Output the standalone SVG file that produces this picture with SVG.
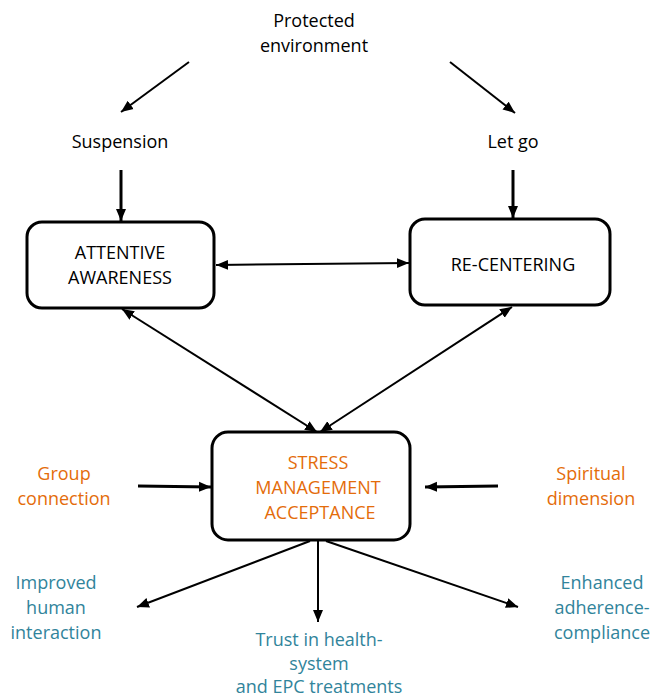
<svg xmlns="http://www.w3.org/2000/svg" width="664" height="698" viewBox="0 0 664 698">
<style>
text{font-family:"Open Sans","Noto Sans",sans-serif;font-size:18px;text-anchor:middle;fill:#000}
.or{fill:#E46C0A}
.tl{fill:#31849B}
.box{fill:#fff;stroke:#000;stroke-width:3}
.c{stroke:#000;stroke-width:2;fill:none}
.t{stroke:#000;stroke-width:3;fill:none}
</style>
<defs>
<marker id="ah" markerUnits="userSpaceOnUse" markerWidth="14" markerHeight="12" refX="12" refY="6" orient="auto-start-reverse">
<path d="M0,1 L12,6 L0,11 z" fill="#000"/>
</marker>
</defs>
<g id="protected"><text x="314" y="27">Protected</text><text x="314" y="52">environment</text></g>
<g id="suspension"><text x="120" y="148">Suspension</text></g>
<g id="letgo"><text x="513" y="148">Let go</text></g>
<g id="attentive"><rect class="box" x="27" y="222" width="187" height="86" rx="15"/><text x="120" y="259">ATTENTIVE</text><text x="120" y="284">AWARENESS</text></g>
<g id="recentering"><rect class="box" x="410" y="219" width="200" height="86" rx="15"/><text x="513" y="271">RE-CENTERING</text></g>
<g id="stress"><rect class="box" x="212" y="432" width="198" height="108" rx="16"/><text class="or" x="318" y="469">STRESS</text><text class="or" x="318" y="494">MANAGEMENT</text><text class="or" x="320" y="519">ACCEPTANCE</text></g>
<g id="group"><text class="or" x="64" y="480">Group</text><text class="or" x="64" y="505">connection</text></g>
<g id="spiritual"><text class="or" x="591" y="480">Spiritual</text><text class="or" x="591" y="505">dimension</text></g>
<g id="improved"><text class="tl" x="56" y="589">Improved</text><text class="tl" x="56" y="614">human</text><text class="tl" x="56" y="639">interaction</text></g>
<g id="trust"><text class="tl" x="319" y="646">Trust in health-</text><text class="tl" x="319" y="670">system</text><text class="tl" x="319" y="693">and EPC treatments</text></g>
<g id="enhanced"><text class="tl" x="602" y="589">Enhanced</text><text class="tl" x="602" y="614">adherence-</text><text class="tl" x="602" y="639">compliance</text></g>
<g id="connectors">
<line class="c" x1="189" y1="62" x2="121" y2="112" marker-end="url(#ah)"/>
<line class="c" x1="450" y1="62" x2="515" y2="113" marker-end="url(#ah)"/>
<line class="t" x1="121" y1="170" x2="121" y2="221" marker-end="url(#ah)"/>
<line class="t" x1="513" y1="170" x2="513" y2="218" marker-end="url(#ah)"/>
<line class="c" x1="216" y1="265" x2="409" y2="263" marker-start="url(#ah)" marker-end="url(#ah)"/>
<line class="c" x1="122" y1="309" x2="317" y2="432" marker-start="url(#ah)" marker-end="url(#ah)"/>
<line class="c" x1="512" y1="307" x2="320" y2="432" marker-start="url(#ah)" marker-end="url(#ah)"/>
<line class="t" x1="138" y1="486" x2="211" y2="487" marker-end="url(#ah)"/>
<line class="t" x1="498" y1="486" x2="425" y2="487" marker-end="url(#ah)"/>
<line class="c" x1="310" y1="541" x2="137" y2="607" marker-end="url(#ah)"/>
<line class="c" x1="318" y1="541" x2="318" y2="622" marker-end="url(#ah)"/>
<line class="c" x1="326" y1="541" x2="518" y2="607" marker-end="url(#ah)"/>
</g>
</svg>
